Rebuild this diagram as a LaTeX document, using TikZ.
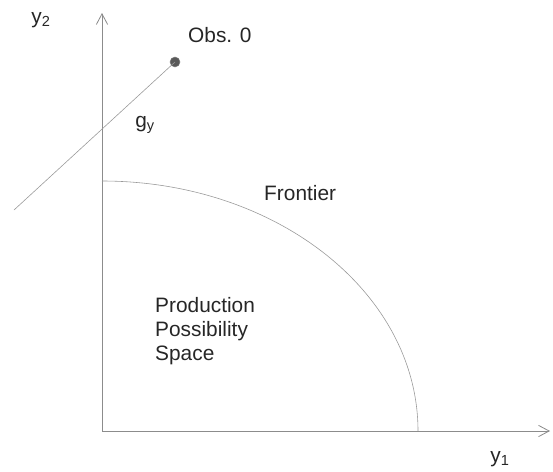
\documentclass[tikz,border=0pt]{standalone}
\usepackage{fontspec}
\setmainfont{Liberation Sans}
\usepackage{xcolor}
\usetikzlibrary{arrows.meta,positioning,calc}

\begin{document}
\begin{tikzpicture}[
    x=0.03cm, y=-0.03cm,
    font=\fontsize{17.8}{20.5}\selectfont,
    axis/.style={line width=0.7pt, draw=black!45, -{Straight Barb[length=3.2mm, width=3.4mm]}},
    thinline/.style={line width=0.5pt, draw=black!40},
    lbl/.style={inner sep=0pt, text=black!85},
    obsdot/.style={circle, fill=black!65, draw=black!50, minimum size=3mm, inner sep=0pt}
]
\useasboundingbox (0,0) rectangle (553,472);
% axes
\coordinate (o) at (102,431);
\coordinate (ytop) at (102,13);
\coordinate (xend) at (550,431);
\draw[axis] (o) -- (ytop);
\draw[axis] (o) -- (xend);
\node[lbl] (y2) at (41,20) {y\textsubscript{2}};
\node[lbl] (y1) at (500,459) {y\textsubscript{1}};
% frontier
\coordinate (ftop) at (102,181);
\draw[thinline] (ftop) arc[start angle=-90, end angle=0, x radius=316, y radius=250];
\node[lbl, anchor=west] (front) at (264,193) {Frontier};
\node[lbl, anchor=north west, align=left] (pps) at (155,297) {Production\\Possibility\\Space};
% observation and direction
\node[obsdot] (obs) at (175,62) {};
\coordinate (gend) at (14,210);
\draw[thinline] (obs.center) -- (gend);
\node[lbl, anchor=west] (obsl) at (188,35) {Obs. 0};
\node[lbl] (gy) at (145,125) {g\textsubscript{y}};
\end{tikzpicture}
\end{document}
